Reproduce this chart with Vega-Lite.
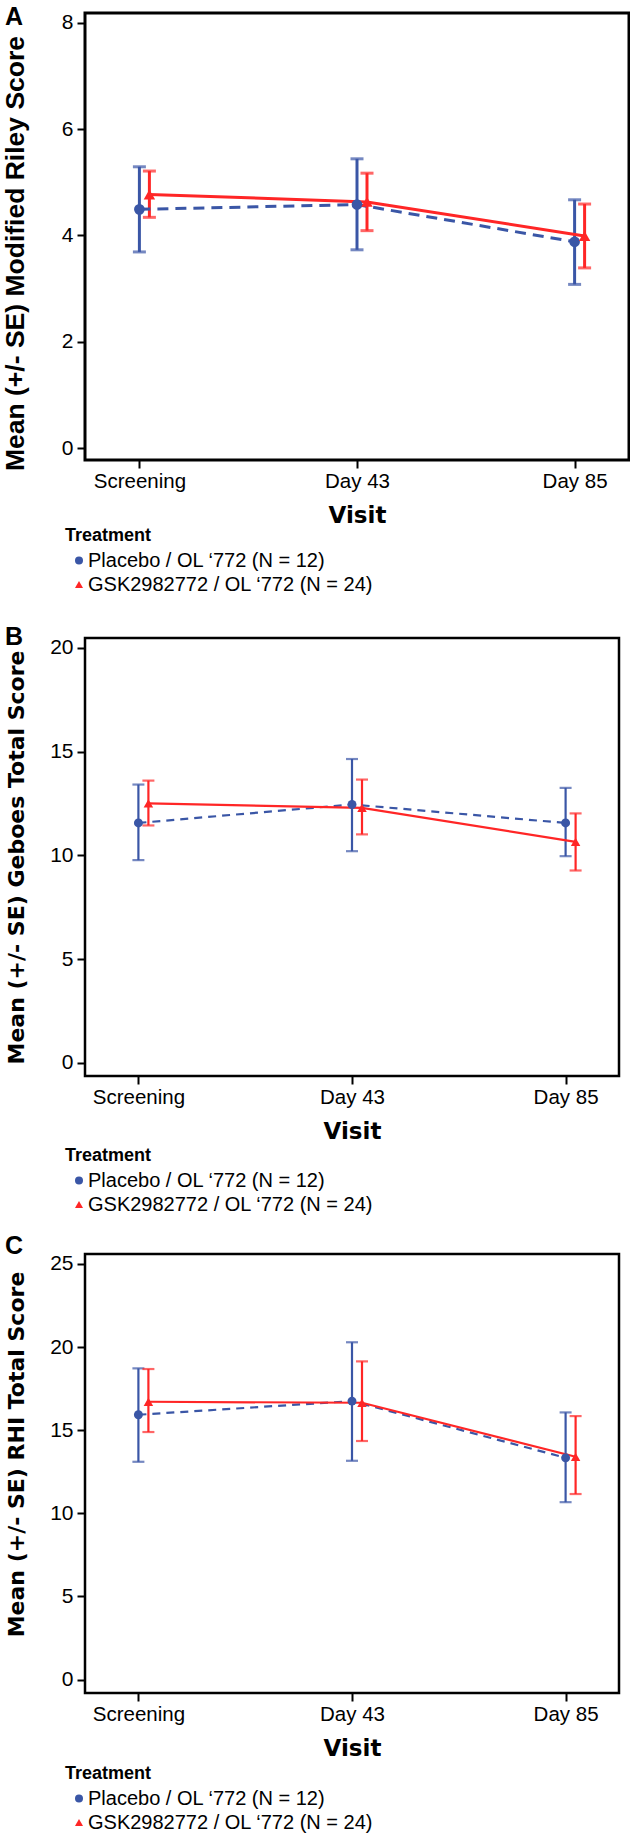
{
  "$schema": "https://vega.github.io/schema/vega-lite/v6.json",
  "background": "white",
  "padding": {"left": 0, "top": 3, "right": 0, "bottom": 0},
  "bounds": "flush",
  "spacing": 178,
  "config": {
    "font": "Liberation Sans",
    "view": {"stroke": "black", "strokeWidth": 2.5},
    "axis": {"domain": false, "grid": false, "tickColor": "black", "tickWidth": 2, "tickSize": 8, "labelColor": "black", "titleColor": "black", "labelFont": "Liberation Sans", "labelFontSize": 21, "titleFont": "DejaVu Sans", "titleFontWeight": "bold"},
    "axisX": {"labelAngle": 0, "labelPadding": 3, "labelFontSize": 20.5, "titleFontSize": 23, "titleY": 62, "titleBaseline": "alphabetic"},
    "axisY": {"labelPadding": 4, "titleBaseline": "alphabetic", "titleFontSize": 22, "titleX": -61.5},
    "legend": {"orient": "none", "padding": 0, "titleFont": "Liberation Sans", "titleFontWeight": "bold", "titleFontSize": 18, "titleColor": "black", "labelFont": "Liberation Sans", "labelFontSize": 20, "labelColor": "black", "symbolSize": 64, "symbolOffset": 4, "labelOffset": -1, "rowPadding": 4, "titlePadding": 6, "labelLimit": 500, "symbolStrokeWidth": 0},
    "title": {"font": "Liberation Sans", "fontWeight": "bold", "fontSize": 25, "color": "black", "anchor": "start", "frame": "group", "baseline": "alphabetic", "offset": 0}
  },
  "datasets": {
    "A": [
      {"visit": "Screening", "group": "Placebo / OL ‘772 (N = 12)", "mean": 4.49, "lo": 3.69, "hi": 5.29},
      {"visit": "Day 43", "group": "Placebo / OL ‘772 (N = 12)", "mean": 4.58, "lo": 3.73, "hi": 5.44},
      {"visit": "Day 85", "group": "Placebo / OL ‘772 (N = 12)", "mean": 3.88, "lo": 3.08, "hi": 4.67},
      {"visit": "Screening", "group": "GSK2982772 / OL ‘772 (N = 24)", "mean": 4.77, "lo": 4.34, "hi": 5.21},
      {"visit": "Day 43", "group": "GSK2982772 / OL ‘772 (N = 24)", "mean": 4.63, "lo": 4.09, "hi": 5.17},
      {"visit": "Day 85", "group": "GSK2982772 / OL ‘772 (N = 24)", "mean": 3.99, "lo": 3.39, "hi": 4.59}
    ],
    "B": [
      {"visit": "Screening", "group": "Placebo / OL ‘772 (N = 12)", "mean": 11.56, "lo": 9.77, "hi": 13.41},
      {"visit": "Day 43", "group": "Placebo / OL ‘772 (N = 12)", "mean": 12.45, "lo": 10.2, "hi": 14.64},
      {"visit": "Day 85", "group": "Placebo / OL ‘772 (N = 12)", "mean": 11.56, "lo": 9.96, "hi": 13.25},
      {"visit": "Screening", "group": "GSK2982772 / OL ‘772 (N = 24)", "mean": 12.5, "lo": 11.44, "hi": 13.6},
      {"visit": "Day 43", "group": "GSK2982772 / OL ‘772 (N = 24)", "mean": 12.29, "lo": 11.01, "hi": 13.65},
      {"visit": "Day 85", "group": "GSK2982772 / OL ‘772 (N = 24)", "mean": 10.65, "lo": 9.27, "hi": 12.02}
    ],
    "C": [
      {"visit": "Screening", "group": "Placebo / OL ‘772 (N = 12)", "mean": 15.93, "lo": 13.1, "hi": 18.72},
      {"visit": "Day 43", "group": "Placebo / OL ‘772 (N = 12)", "mean": 16.75, "lo": 13.16, "hi": 20.29},
      {"visit": "Day 85", "group": "Placebo / OL ‘772 (N = 12)", "mean": 13.34, "lo": 10.67, "hi": 16.07},
      {"visit": "Screening", "group": "GSK2982772 / OL ‘772 (N = 24)", "mean": 16.71, "lo": 14.89, "hi": 18.68},
      {"visit": "Day 43", "group": "GSK2982772 / OL ‘772 (N = 24)", "mean": 16.65, "lo": 14.35, "hi": 19.14},
      {"visit": "Day 85", "group": "GSK2982772 / OL ‘772 (N = 24)", "mean": 13.4, "lo": 11.16, "hi": 15.85}
    ]
  },
  "resolve": {"scale": {"x": "independent", "y": "independent", "color": "independent", "shape": "independent"}, "legend": {"color": "independent", "shape": "independent"}},
  "vconcat": [
    {
      "width": 544, "height": 447,
      "data": {"name": "A"},
      "view": {"stroke": "black", "strokeWidth": 3},
      "title": {"text": "A", "dx": -80, "dy": 22.5},
      "encoding": {
        "x": {"field": "visit", "type": "ordinal", "sort": ["Screening", "Day 43", "Day 85"], "scale": {"type": "point", "padding": 0.25}, "axis": {"title": "Visit"}},
        "y": {"field": "mean", "type": "quantitative", "title": "Mean (+/- SE) Modified Riley Score", "scale": {"domain": [-0.22, 8.18], "nice": false, "zero": false}, "axis": {"values": [0, 2, 4, 6, 8], "titleFont": "Liberation Sans", "titleFontSize": 26.5, "titleX": -62, "titleY": 240}}
      },
      "layer": [
        {"transform": [{"filter": {"field": "group", "equal": "Placebo / OL ‘772 (N = 12)"}}], "mark": {"type": "rule", "color": "#3A56A6", "strokeWidth": 3}, "encoding": {"y": {"field": "lo", "type": "quantitative", "title": "Mean (+/- SE) Modified Riley Score", "scale": {"domain": [-0.22, 8.18], "nice": false, "zero": false}}, "y2": {"field": "hi"}}},
        {"transform": [{"filter": {"field": "group", "equal": "Placebo / OL ‘772 (N = 12)"}}], "mark": {"type": "tick", "orient": "horizontal", "color": "#3A56A6", "size": 13, "thickness": 3}, "encoding": {"y": {"field": "lo", "type": "quantitative", "title": "Mean (+/- SE) Modified Riley Score", "scale": {"domain": [-0.22, 8.18], "nice": false, "zero": false}}}},
        {"transform": [{"filter": {"field": "group", "equal": "Placebo / OL ‘772 (N = 12)"}}], "mark": {"type": "tick", "orient": "horizontal", "color": "#3A56A6", "size": 13, "thickness": 3}, "encoding": {"y": {"field": "hi", "type": "quantitative", "title": "Mean (+/- SE) Modified Riley Score", "scale": {"domain": [-0.22, 8.18], "nice": false, "zero": false}}}},
        {"transform": [{"filter": {"field": "group", "equal": "GSK2982772 / OL ‘772 (N = 24)"}}], "mark": {"type": "rule", "color": "#FF2626", "strokeWidth": 3, "xOffset": 10}, "encoding": {"y": {"field": "lo", "type": "quantitative", "title": "Mean (+/- SE) Modified Riley Score", "scale": {"domain": [-0.22, 8.18], "nice": false, "zero": false}}, "y2": {"field": "hi"}}},
        {"transform": [{"filter": {"field": "group", "equal": "GSK2982772 / OL ‘772 (N = 24)"}}], "mark": {"type": "tick", "orient": "horizontal", "color": "#FF2626", "size": 13, "thickness": 3, "xOffset": 10}, "encoding": {"y": {"field": "lo", "type": "quantitative", "title": "Mean (+/- SE) Modified Riley Score", "scale": {"domain": [-0.22, 8.18], "nice": false, "zero": false}}}},
        {"transform": [{"filter": {"field": "group", "equal": "GSK2982772 / OL ‘772 (N = 24)"}}], "mark": {"type": "tick", "orient": "horizontal", "color": "#FF2626", "size": 13, "thickness": 3, "xOffset": 10}, "encoding": {"y": {"field": "hi", "type": "quantitative", "title": "Mean (+/- SE) Modified Riley Score", "scale": {"domain": [-0.22, 8.18], "nice": false, "zero": false}}}},
        {"transform": [{"filter": {"field": "group", "equal": "Placebo / OL ‘772 (N = 12)"}}], "mark": {"type": "line", "color": "#3A56A6", "strokeWidth": 3, "strokeDash": [11, 7]}},
        {"transform": [{"filter": {"field": "group", "equal": "GSK2982772 / OL ‘772 (N = 24)"}}], "mark": {"type": "line", "color": "#FF2626", "strokeWidth": 3, "xOffset": 10}},
        {"transform": [{"filter": {"field": "group", "equal": "Placebo / OL ‘772 (N = 12)"}}], "mark": {"type": "point", "filled": true, "opacity": 1, "size": 115},
         "encoding": {
           "color": {"field": "group", "type": "nominal", "scale": {"domain": ["Placebo / OL ‘772 (N = 12)", "GSK2982772 / OL ‘772 (N = 24)"], "range": ["#3A56A6", "#FF2626"]}, "legend": {"title": "Treatment", "legendX": -20, "legendY": 513.5, "encode": {"symbols": {"update": {"size": {"value": 64}}}}}},
           "shape": {"field": "group", "type": "nominal", "scale": {"domain": ["Placebo / OL ‘772 (N = 12)", "GSK2982772 / OL ‘772 (N = 24)"], "range": ["circle", "triangle-up"]}, "legend": {"title": "Treatment", "legendX": -20, "legendY": 513.5, "encode": {"symbols": {"update": {"size": {"value": 64}}}}}}}},
        {"transform": [{"filter": {"field": "group", "equal": "GSK2982772 / OL ‘772 (N = 24)"}}], "mark": {"type": "point", "filled": true, "opacity": 1, "size": 130, "xOffset": 10},
         "encoding": {
           "color": {"field": "group", "type": "nominal", "scale": {"domain": ["Placebo / OL ‘772 (N = 12)", "GSK2982772 / OL ‘772 (N = 24)"], "range": ["#3A56A6", "#FF2626"]}, "legend": {"title": "Treatment", "legendX": -20, "legendY": 513.5, "encode": {"symbols": {"update": {"size": {"value": 64}}}}}},
           "shape": {"field": "group", "type": "nominal", "scale": {"domain": ["Placebo / OL ‘772 (N = 12)", "GSK2982772 / OL ‘772 (N = 24)"], "range": ["circle", "triangle-up"]}, "legend": {"title": "Treatment", "legendX": -20, "legendY": 513.5, "encode": {"symbols": {"update": {"size": {"value": 64}}}}}}}}
      ]
    },
    {
      "width": 534, "height": 438,
      "data": {"name": "B"},
      "title": {"text": "B", "dx": -80, "dy": 17},
      "encoding": {
        "x": {"field": "visit", "type": "ordinal", "sort": ["Screening", "Day 43", "Day 85"], "scale": {"type": "point", "padding": 0.25}, "axis": {"title": "Visit"}},
        "y": {"field": "mean", "type": "quantitative", "title": "Mean (+/- SE) Geboes Total Score", "scale": {"domain": [-0.63, 20.47], "nice": false, "zero": false}, "axis": {"values": [0, 5, 10, 15, 20]}}
      },
      "layer": [
        {"transform": [{"filter": {"field": "group", "equal": "Placebo / OL ‘772 (N = 12)"}}], "mark": {"type": "rule", "color": "#3A56A6", "strokeWidth": 2.2}, "encoding": {"y": {"field": "lo", "type": "quantitative", "title": "Mean (+/- SE) Geboes Total Score", "scale": {"domain": [-0.63, 20.47], "nice": false, "zero": false}}, "y2": {"field": "hi"}}},
        {"transform": [{"filter": {"field": "group", "equal": "Placebo / OL ‘772 (N = 12)"}}], "mark": {"type": "tick", "orient": "horizontal", "color": "#3A56A6", "size": 12, "thickness": 2.2}, "encoding": {"y": {"field": "lo", "type": "quantitative", "title": "Mean (+/- SE) Geboes Total Score", "scale": {"domain": [-0.63, 20.47], "nice": false, "zero": false}}}},
        {"transform": [{"filter": {"field": "group", "equal": "Placebo / OL ‘772 (N = 12)"}}], "mark": {"type": "tick", "orient": "horizontal", "color": "#3A56A6", "size": 12, "thickness": 2.2}, "encoding": {"y": {"field": "hi", "type": "quantitative", "title": "Mean (+/- SE) Geboes Total Score", "scale": {"domain": [-0.63, 20.47], "nice": false, "zero": false}}}},
        {"transform": [{"filter": {"field": "group", "equal": "GSK2982772 / OL ‘772 (N = 24)"}}], "mark": {"type": "rule", "color": "#FF2626", "strokeWidth": 2.2, "xOffset": 10}, "encoding": {"y": {"field": "lo", "type": "quantitative", "title": "Mean (+/- SE) Geboes Total Score", "scale": {"domain": [-0.63, 20.47], "nice": false, "zero": false}}, "y2": {"field": "hi"}}},
        {"transform": [{"filter": {"field": "group", "equal": "GSK2982772 / OL ‘772 (N = 24)"}}], "mark": {"type": "tick", "orient": "horizontal", "color": "#FF2626", "size": 12, "thickness": 2.2, "xOffset": 10}, "encoding": {"y": {"field": "lo", "type": "quantitative", "title": "Mean (+/- SE) Geboes Total Score", "scale": {"domain": [-0.63, 20.47], "nice": false, "zero": false}}}},
        {"transform": [{"filter": {"field": "group", "equal": "GSK2982772 / OL ‘772 (N = 24)"}}], "mark": {"type": "tick", "orient": "horizontal", "color": "#FF2626", "size": 12, "thickness": 2.2, "xOffset": 10}, "encoding": {"y": {"field": "hi", "type": "quantitative", "title": "Mean (+/- SE) Geboes Total Score", "scale": {"domain": [-0.63, 20.47], "nice": false, "zero": false}}}},
        {"transform": [{"filter": {"field": "group", "equal": "Placebo / OL ‘772 (N = 12)"}}], "mark": {"type": "line", "color": "#3A56A6", "strokeWidth": 2.2, "strokeDash": [8, 6]}},
        {"transform": [{"filter": {"field": "group", "equal": "GSK2982772 / OL ‘772 (N = 24)"}}], "mark": {"type": "line", "color": "#FF2626", "strokeWidth": 2.2, "xOffset": 10}},
        {"transform": [{"filter": {"field": "group", "equal": "Placebo / OL ‘772 (N = 12)"}}], "mark": {"type": "point", "filled": true, "opacity": 1, "size": 80},
         "encoding": {
           "color": {"field": "group", "type": "nominal", "scale": {"domain": ["Placebo / OL ‘772 (N = 12)", "GSK2982772 / OL ‘772 (N = 24)"], "range": ["#3A56A6", "#FF2626"]}, "legend": {"title": "Treatment", "legendX": -20, "legendY": 508.5, "encode": {"symbols": {"update": {"size": {"value": 64}}}}}},
           "shape": {"field": "group", "type": "nominal", "scale": {"domain": ["Placebo / OL ‘772 (N = 12)", "GSK2982772 / OL ‘772 (N = 24)"], "range": ["circle", "triangle-up"]}, "legend": {"title": "Treatment", "legendX": -20, "legendY": 508.5, "encode": {"symbols": {"update": {"size": {"value": 64}}}}}}}},
        {"transform": [{"filter": {"field": "group", "equal": "GSK2982772 / OL ‘772 (N = 24)"}}], "mark": {"type": "point", "filled": true, "opacity": 1, "size": 90, "xOffset": 10},
         "encoding": {
           "color": {"field": "group", "type": "nominal", "scale": {"domain": ["Placebo / OL ‘772 (N = 12)", "GSK2982772 / OL ‘772 (N = 24)"], "range": ["#3A56A6", "#FF2626"]}, "legend": {"title": "Treatment", "legendX": -20, "legendY": 508.5, "encode": {"symbols": {"update": {"size": {"value": 64}}}}}},
           "shape": {"field": "group", "type": "nominal", "scale": {"domain": ["Placebo / OL ‘772 (N = 12)", "GSK2982772 / OL ‘772 (N = 24)"], "range": ["circle", "triangle-up"]}, "legend": {"title": "Treatment", "legendX": -20, "legendY": 508.5, "encode": {"symbols": {"update": {"size": {"value": 64}}}}}}}}
      ]
    },
    {
      "width": 534, "height": 439,
      "data": {"name": "C"},
      "title": {"text": "C", "dx": -80, "dy": 10},
      "encoding": {
        "x": {"field": "visit", "type": "ordinal", "sort": ["Screening", "Day 43", "Day 85"], "scale": {"type": "point", "padding": 0.25}, "axis": {"title": "Visit"}},
        "y": {"field": "mean", "type": "quantitative", "title": "Mean (+/- SE) RHI Total Score", "scale": {"domain": [-0.81, 25.6], "nice": false, "zero": false}, "axis": {"values": [0, 5, 10, 15, 20, 25], "titleY": 200}}
      },
      "layer": [
        {"transform": [{"filter": {"field": "group", "equal": "Placebo / OL ‘772 (N = 12)"}}], "mark": {"type": "rule", "color": "#3A56A6", "strokeWidth": 2.2}, "encoding": {"y": {"field": "lo", "type": "quantitative", "title": "Mean (+/- SE) RHI Total Score", "scale": {"domain": [-0.81, 25.6], "nice": false, "zero": false}}, "y2": {"field": "hi"}}},
        {"transform": [{"filter": {"field": "group", "equal": "Placebo / OL ‘772 (N = 12)"}}], "mark": {"type": "tick", "orient": "horizontal", "color": "#3A56A6", "size": 12, "thickness": 2.2}, "encoding": {"y": {"field": "lo", "type": "quantitative", "title": "Mean (+/- SE) RHI Total Score", "scale": {"domain": [-0.81, 25.6], "nice": false, "zero": false}}}},
        {"transform": [{"filter": {"field": "group", "equal": "Placebo / OL ‘772 (N = 12)"}}], "mark": {"type": "tick", "orient": "horizontal", "color": "#3A56A6", "size": 12, "thickness": 2.2}, "encoding": {"y": {"field": "hi", "type": "quantitative", "title": "Mean (+/- SE) RHI Total Score", "scale": {"domain": [-0.81, 25.6], "nice": false, "zero": false}}}},
        {"transform": [{"filter": {"field": "group", "equal": "GSK2982772 / OL ‘772 (N = 24)"}}], "mark": {"type": "rule", "color": "#FF2626", "strokeWidth": 2.2, "xOffset": 10}, "encoding": {"y": {"field": "lo", "type": "quantitative", "title": "Mean (+/- SE) RHI Total Score", "scale": {"domain": [-0.81, 25.6], "nice": false, "zero": false}}, "y2": {"field": "hi"}}},
        {"transform": [{"filter": {"field": "group", "equal": "GSK2982772 / OL ‘772 (N = 24)"}}], "mark": {"type": "tick", "orient": "horizontal", "color": "#FF2626", "size": 12, "thickness": 2.2, "xOffset": 10}, "encoding": {"y": {"field": "lo", "type": "quantitative", "title": "Mean (+/- SE) RHI Total Score", "scale": {"domain": [-0.81, 25.6], "nice": false, "zero": false}}}},
        {"transform": [{"filter": {"field": "group", "equal": "GSK2982772 / OL ‘772 (N = 24)"}}], "mark": {"type": "tick", "orient": "horizontal", "color": "#FF2626", "size": 12, "thickness": 2.2, "xOffset": 10}, "encoding": {"y": {"field": "hi", "type": "quantitative", "title": "Mean (+/- SE) RHI Total Score", "scale": {"domain": [-0.81, 25.6], "nice": false, "zero": false}}}},
        {"transform": [{"filter": {"field": "group", "equal": "Placebo / OL ‘772 (N = 12)"}}], "mark": {"type": "line", "color": "#3A56A6", "strokeWidth": 2.2, "strokeDash": [8, 6]}},
        {"transform": [{"filter": {"field": "group", "equal": "GSK2982772 / OL ‘772 (N = 24)"}}], "mark": {"type": "line", "color": "#FF2626", "strokeWidth": 2.2, "xOffset": 10}},
        {"transform": [{"filter": {"field": "group", "equal": "Placebo / OL ‘772 (N = 12)"}}], "mark": {"type": "point", "filled": true, "opacity": 1, "size": 80},
         "encoding": {
           "color": {"field": "group", "type": "nominal", "scale": {"domain": ["Placebo / OL ‘772 (N = 12)", "GSK2982772 / OL ‘772 (N = 24)"], "range": ["#3A56A6", "#FF2626"]}, "legend": {"title": "Treatment", "legendX": -20, "legendY": 510.5, "encode": {"symbols": {"update": {"size": {"value": 64}}}}}},
           "shape": {"field": "group", "type": "nominal", "scale": {"domain": ["Placebo / OL ‘772 (N = 12)", "GSK2982772 / OL ‘772 (N = 24)"], "range": ["circle", "triangle-up"]}, "legend": {"title": "Treatment", "legendX": -20, "legendY": 510.5, "encode": {"symbols": {"update": {"size": {"value": 64}}}}}}}},
        {"transform": [{"filter": {"field": "group", "equal": "GSK2982772 / OL ‘772 (N = 24)"}}], "mark": {"type": "point", "filled": true, "opacity": 1, "size": 90, "xOffset": 10},
         "encoding": {
           "color": {"field": "group", "type": "nominal", "scale": {"domain": ["Placebo / OL ‘772 (N = 12)", "GSK2982772 / OL ‘772 (N = 24)"], "range": ["#3A56A6", "#FF2626"]}, "legend": {"title": "Treatment", "legendX": -20, "legendY": 510.5, "encode": {"symbols": {"update": {"size": {"value": 64}}}}}},
           "shape": {"field": "group", "type": "nominal", "scale": {"domain": ["Placebo / OL ‘772 (N = 12)", "GSK2982772 / OL ‘772 (N = 24)"], "range": ["circle", "triangle-up"]}, "legend": {"title": "Treatment", "legendX": -20, "legendY": 510.5, "encode": {"symbols": {"update": {"size": {"value": 64}}}}}}}}
      ]
    }
  ]
}
